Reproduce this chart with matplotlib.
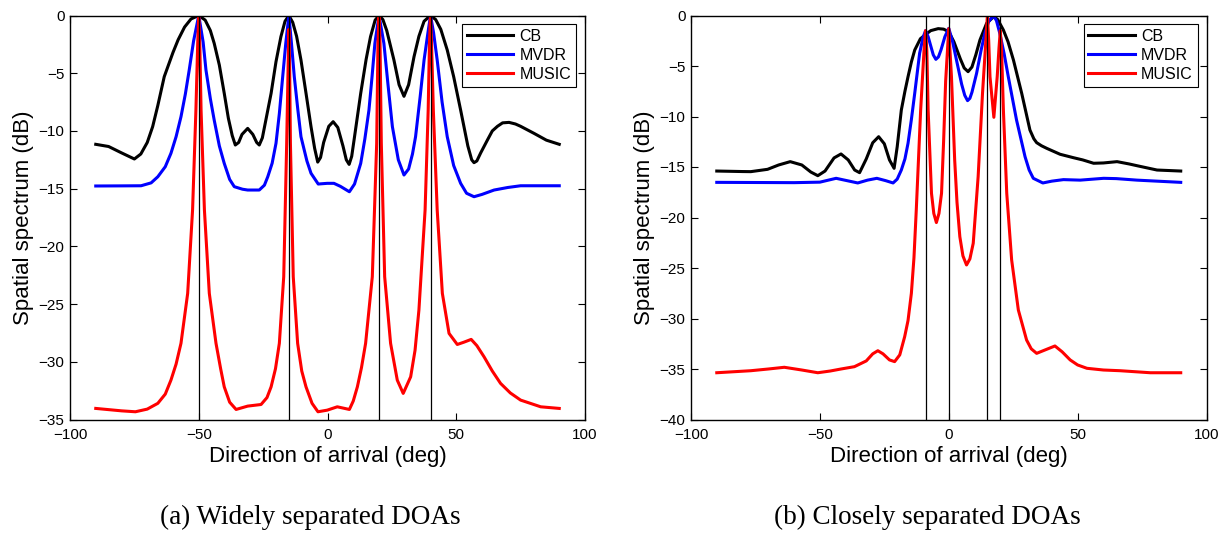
import numpy as np
import matplotlib
matplotlib.use('Agg')
import matplotlib.pyplot as plt

plt.rcParams['font.family'] = ['Liberation Sans', 'DejaVu Sans']

# (a) widely separated DOAs
doas_a = [-50, -15, 20, 40]
cb_a_x = [-90, -85, -80, -75, -72.5, -70, -67.9, -65.9, -63.4, -60, -58, -55.5, -53, -50, -47.5, -45.5,
          -44, -42, -40.1, -38.5, -37, -35.8, -34.5, -33.2, -31, -29, -27.5, -26.5, -25.3, -23.8,
          -21.9, -20, -18.1, -16.5, -15, -13.5, -12, -10.3, -8.3, -6.4, -5, -3.8, -2.7, -1.5, 0.5,
          2.2, 4, 6, 7.3, 8.4, 9.4, 10.5, 12.9, 15, 16.7, 18.5, 20, 21.5, 23, 25.8, 27.8, 29.7, 31.5,
          33.6, 35.5, 37.5, 40, 42, 44, 46.5, 49, 51.7, 54.5, 56, 56.9, 58, 59.5, 62.1, 64, 66, 68,
          70.5, 73, 75, 80.2, 85, 90]
cb_a_y = [-11.16, -11.35, -11.9, -12.43, -12.0, -11.0, -9.63, -7.8, -5.3, -3.2, -2.1, -1.0, -0.3, 0,
          -0.4, -1.3, -2.41, -4.3, -6.74, -8.9, -10.4, -11.22, -11.0, -10.3, -9.78, -10.3, -11.0,
          -11.22, -10.6, -8.9, -6.74, -4.0, -1.84, -0.5, 0, -0.6, -1.8, -3.86, -6.8, -9.63, -11.5,
          -12.7, -12.3, -11.0, -9.6, -9.2, -9.7, -11.3, -12.5, -12.9, -12.2, -10.5, -6.74, -3.8,
          -1.84, -0.4, 0, -0.35, -1.3, -3.86, -6.0, -7.0, -6.0, -3.57, -1.8, -0.5, 0, -0.35, -1.2,
          -2.99, -5.3, -8.19, -11.3, -12.5, -12.75, -12.6, -11.9, -10.79, -10.0, -9.6, -9.3, -9.26,
          -9.4, -9.6, -10.21, -10.8, -11.16]
mvdr_a_x = [-90, -80, -72.4, -68.5, -65.9, -63, -60.8, -58.8, -56.9, -55.2, -53.7, -52, -50, -48.3,
            -47.2, -45.5, -44, -42, -40.1, -38, -36.2, -33, -31, -26.5, -24.5, -23.2, -21.5, -20,
            -18.7, -17.4, -16.2, -15, -14, -12.9, -11.5, -10.3, -8, -6.4, -3.6, -0.1, 2.5, 5, 8.5,
            10.5, 12.9, 14.5, 16.1, 17.3, 18.4, 20, 21.9, 23.5, 25.2, 27.5, 29.7, 31.5, 33, 34.2, 36,
            37.5, 39, 40, 41.2, 42.6, 44.5, 46.5, 49, 51.7, 54, 56.9, 60, 64.7, 70, 75, 90]
mvdr_a_y = [-14.77, -14.76, -14.75, -14.5, -13.97, -13.1, -11.94, -10.5, -8.77, -6.8, -4.72, -2.2, 0,
            -2.3, -4.72, -7.2, -9.06, -11.3, -12.81, -14.2, -14.83, -15.05, -15.12, -15.12, -14.7,
            -13.97, -12.8, -11.07, -8.5, -5.3, -2.4, 0, -2.4, -5.3, -8.2, -10.5, -12.6, -13.67, -14.6,
            -14.54, -14.54, -14.8, -15.27, -14.6, -12.81, -10.7, -8.19, -5.3, -2.41, 0, -2.41, -6.0,
            -9.63, -12.5, -13.82, -13.3, -12.0, -10.5, -7.0, -3.86, -1.5, 0, -1.5, -3.86, -7.5,
            -10.5, -13.0, -14.54, -15.4, -15.7, -15.5, -15.12, -14.9, -14.75, -14.75]
music_a_x = [-90, -80, -74.6, -70, -65.9, -63, -60.8, -58.8, -56.9, -54.3, -52.4, -51.1, -50.4, -50,
             -49.6, -49.1, -47.8, -45.9, -43.3, -41.5, -40.1, -38, -35.5, -31, -25.8, -23.5, -21.9,
             -20.2, -18.7, -17.0, -15.85, -15.3, -15, -14.7, -14.4, -13.3, -11.6, -10, -8.35, -6,
             -3.7, -0.1, 3.8, 8.5, 10, 11.6, 13.2, 14.8, 17.4, 19.1, 19.6, 20, 20.4, 20.9, 22.2,
             24.5, 27.1, 29.4, 32.3, 34, 35.5, 37.9, 39.1, 39.6, 40, 40.4, 41.1, 42.6, 44.6, 47.2,
             50.4, 53, 55.8, 58, 60.8, 64, 67.2, 71, 75, 82.8, 90]
music_a_y = [-34.04, -34.25, -34.33, -34.1, -33.6, -32.8, -31.59, -30.2, -28.4, -24.07, -16.85, -8.19,
             -2.4, 0, -2.4, -8.19, -16.85, -24.07, -28.4, -30.6, -32.17, -33.5, -34.13, -33.84, -33.7,
             -33.1, -32.17, -30.6, -28.4, -22.63, -11.07, -4.5, -1.2, -4.5, -11.07, -22.63, -28.4,
             -30.8, -32.17, -33.6, -34.33, -34.19, -33.9, -34.13, -33.4, -32.17, -30.5, -28.4,
             -22.63, -11.07, -2.4, 0, -2.4, -11.07, -22.63, -28.4, -31.59, -32.74, -31.3, -29.0,
             -25.52, -16.85, -8.19, -2.4, 0, -2.4, -8.19, -16.85, -24.07, -27.54, -28.5, -28.3,
             -28.06, -28.6, -29.57, -30.8, -31.87, -32.7, -33.32, -33.9, -34.04]

# (b) closely separated DOAs
doas_b = [-9, 0, 15, 20]
cb_b_x = [-90, -80, -76.8, -70.3, -66, -61.5, -57, -53.5, -50.8, -48, -44.5, -41.8, -39, -36.5, -34.6,
          -32, -29.5, -27.2, -25, -23, -21.2, -20, -18.4, -17, -15.8, -14.5, -13.2, -11, -9.2, -7,
          -4.1, -2, 0, 2, 4.5, 6, 7.5, 9, 10.5, 12.1, 14.7, 17.5, 19, 21.2, 23, 25.1, 28.3, 31.5,
          33, 34.1, 36, 38, 43.2, 48.4, 52, 56.2, 60, 65.3, 70, 73, 80.8, 90]
cb_b_y = [-15.4, -15.45, -15.46, -15.23, -14.8, -14.47, -14.8, -15.5, -15.86, -15.4, -14.1, -13.71,
          -14.3, -15.3, -15.56, -14.2, -12.6, -12.0, -12.7, -14.3, -15.13, -13.0, -9.36, -7.5, -6.06,
          -4.6, -3.42, -2.3, -1.93, -1.5, -1.3, -1.35, -1.6, -2.6, -4.3, -5.2, -5.56, -5.1, -3.9,
          -2.43, -0.77, -0.1, -0.4, -1.44, -2.6, -4.41, -7.7, -11.34, -12.2, -12.59, -12.9, -13.15,
          -13.74, -14.08, -14.3, -14.63, -14.6, -14.47, -14.7, -14.87, -15.3, -15.4]
mvdr_b_x = [-90, -60, -50, -43.7, -39.5, -35.3, -31.5, -27.9, -24.5, -21.6, -20, -18.4, -17, -15.8,
            -14.5, -13.2, -11.3, -10, -9, -8, -7, -6, -5, -4, -3, -1.5, 0, 1.5, 3.0, 5, 6.2, 7.3, 8.2,
            9, 10.8, 12.5, 14, 15.5, 17.3, 18.5, 19.8, 21.5, 23.1, 26.3, 29.6, 31.2, 32.8, 36.5, 40,
            44.5, 51, 60.1, 65, 73, 90]
mvdr_b_y = [-16.52, -16.55, -16.5, -16.12, -16.35, -16.58, -16.3, -16.12, -16.35, -16.58, -16.2,
            -15.3, -14.2, -12.65, -10.3, -7.7, -3.74, -2.2, -1.5, -2.1, -3.0, -3.9, -4.34, -4.1, -3.4,
            -2.1, -1.27, -2.6, -4.41, -6.8, -7.9, -8.43, -8.2, -7.6, -5.73, -3.5, -1.76, -0.6, 0,
            -0.5, -1.76, -3.8, -6.06, -10.35, -13.98, -15.3, -16.12, -16.58, -16.4, -16.25, -16.3,
            -16.12, -16.15, -16.3, -16.52]
music_b_x = [-90, -76.8, -70, -63.8, -57, -50.8, -46, -41.8, -36.6, -32, -29.5, -27.5, -25.5, -23,
             -21, -19, -17.1, -15.8, -14.5, -13.5, -12.6, -10.9, -9.6, -9, -8.5, -8.0, -6.7, -5.8,
             -4.8, -3.8, -2.8, -2.0, -1.2, 0, 1.05, 2.3, 3.2, 4.3, 5.5, 6.9, 8.2, 9.5, 11.4, 13.1,
             14.4, 15, 15.5, 16.0, 17.5, 18.8, 19.5, 20, 20.5, 21.2, 22.5, 24.4, 27.0, 30.2, 32,
             34.1, 37.5, 41.2, 44, 47.1, 50, 53.6, 60, 66.5, 78.2, 90]
music_b_y = [-35.37, -35.17, -35.0, -34.83, -35.1, -35.37, -35.2, -35.0, -34.77, -34.2, -33.5, -33.19,
             -33.5, -34.1, -34.27, -33.6, -31.8, -30.2, -27.5, -24.0, -19.26, -9.36, -3.5, -1.5,
             -3.5, -9.36, -17.6, -19.6, -20.5, -19.6, -17.6, -12.5, -6.5, -1.3, -6.06, -14.3, -18.5,
             -21.9, -23.8, -24.7, -24.1, -22.55, -15.96, -7.7, -2.5, 0, -2.5, -6.06, -10.08, -6.06,
             -3.2, -1.5, -3.5, -9.36, -17.6, -24.2, -29.16, -32.13, -33.0, -33.45, -33.1, -32.72,
             -33.3, -34.1, -34.6, -34.93, -35.1, -35.17, -35.37, -35.37]

fig = plt.figure(figsize=(12.28, 5.39), dpi=100)
ax1 = fig.add_axes([70 / 1228, 119.5 / 539, 515 / 1228, 404 / 539])
ax2 = fig.add_axes([691 / 1228, 119.5 / 539, 515.5 / 1228, 404 / 539])

panels = [
    (ax1, cb_a_x, cb_a_y, mvdr_a_x, mvdr_a_y, music_a_x, music_a_y, doas_a, -35),
    (ax2, cb_b_x, cb_b_y, mvdr_b_x, mvdr_b_y, music_b_x, music_b_y, doas_b, -40),
]

for ax, cx, cy, mx, my, ux, uy, doas, ymin in panels:
    ax.plot(cx, cy, color='black', lw=2.2, label='CB', solid_joinstyle='round')
    ax.plot(mx, my, color='blue', lw=2.2, label='MVDR', solid_joinstyle='round')
    ax.plot(ux, uy, color='red', lw=2.2, label='MUSIC', solid_joinstyle='round')
    for d in doas:
        ax.axvline(d, color='black', lw=0.9)
    ax.set_xlim(-100, 100)
    ax.set_ylim(ymin, 0)
    ax.set_xticks(np.arange(-100, 101, 50))
    ax.set_yticks(np.arange(ymin, 1, 5))
    ax.tick_params(direction='in', top=True, right=True, labelsize=11, length=5, width=0.8)
    ax.tick_params(axis='x', pad=6)
    ax.tick_params(axis='y', pad=4)
    for s in ax.spines.values():
        s.set_linewidth(1.0)
    ax.set_xlabel('Direction of arrival (deg)', fontsize=16, labelpad=3)
    ax.set_ylabel('Spatial spectrum (dB)', fontsize=16, labelpad=3)
    leg = ax.legend(loc='upper right', fontsize=11.5, handlelength=2.9, borderaxespad=0.55,
                    fancybox=False, edgecolor='black', framealpha=1, labelspacing=0.25,
                    borderpad=0.3, handletextpad=0.4)
    leg.get_frame().set_linewidth(0.8)

fig.text(310 / 1228, 1 - 517 / 539, '(a) Widely separated DOAs', ha='center', va='center',
         fontsize=19.5, family='Liberation Serif')
fig.text(927 / 1228, 1 - 517 / 539, '(b) Closely separated DOAs', ha='center', va='center',
         fontsize=19.5, family='Liberation Serif')

fig.savefig('out.png', dpi=100)
